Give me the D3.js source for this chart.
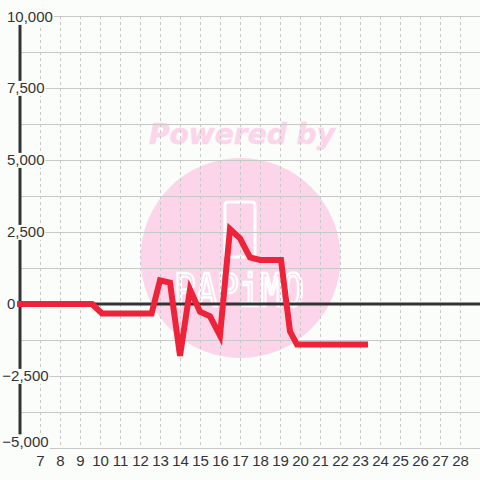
<!DOCTYPE html>
<html>
<head>
<meta charset="utf-8">
<script src="https://cdn.jsdelivr.net/npm/d3@7"></script>
<style>
  html, body { margin: 0; padding: 0; background: #fbfdfb; }
  svg { display: block; }
</style>
</head>
<body>
<div id="chart"></div>
<script>
// ---- data ----
const hours = [6, 7, 8, 9, 9.6, 10.1, 11, 12, 12.58, 13, 13.5, 14, 14.5, 15, 15.5, 16, 16.5, 17, 17.5, 18, 19.05, 19.5, 19.85, 21, 22, 23.25];
const values = [0, 0, 0, 0, 0, -330, -330, -330, -330, 820, 740, -1800, 500, -270, -430, -1100, 2600, 2280, 1620, 1530, 1530, -950, -1410, -1410, -1410, -1410];
const xTicks = [7, 8, 9, 10, 11, 12, 13, 14, 15, 16, 17, 18, 19, 20, 21, 22, 23, 24, 25, 26, 27, 28];
const yTicks = [-5000, -2500, 0, 2500, 5000, 7500, 10000];
const yGrid = [-5000, -3750, -2500, -1250, 0, 1250, 2500, 3750, 5000, 6250, 7500, 8750, 10000];
const watermarkTop = "Powered by";
const watermarkLogo = "PAPiMO";

// ---- setup ----
const W = 480, H = 480, BG = "#fbfdfb";
const x = d3.scaleLinear().domain([6, 29]).range([20, 480]);
const y = d3.scaleLinear().domain([-5000, 10000]).range([448, 16]);

const svg = d3.select("#chart").append("svg").attr("width", W).attr("height", H);
svg.append("rect").attr("width", W).attr("height", H).attr("fill", BG);

// watermark
const wm = svg.append("g");
wm.append("circle").attr("cx", 240.5).attr("cy", 258).attr("r", 100).attr("fill", "#fcd5ea");
wm.append("text").attr("x", 149).attr("y", 143.5)
  .attr("font-family", "DejaVu Sans").attr("font-weight", "bold").attr("font-style", "italic")
  .attr("font-size", 28).attr("textLength", 186).attr("lengthAdjust", "spacingAndGlyphs")
  .attr("fill", "#fcd5ea").attr("stroke", "#fcd5ea").attr("stroke-width", 0.6).text(watermarkTop);
wm.append("rect").attr("x", 225).attr("y", 202).attr("width", 30).attr("height", 55).attr("rx", 3)
  .attr("fill", "none").attr("stroke", "#fff").attr("stroke-width", 3);
wm.append("text").attr("x", 174).attr("y", 306)
  .attr("font-family", "DejaVu Sans Mono").attr("font-size", 44)
  .attr("textLength", 130).attr("lengthAdjust", "spacingAndGlyphs")
  .attr("fill", "none").attr("stroke", "#fff").attr("stroke-width", 2.5).text(watermarkLogo);

// grid
const grid = svg.append("g");
grid.selectAll("line.h").data(yGrid).join("line").attr("class", "h")
  .attr("x1", x(6)).attr("x2", W).attr("y1", d => y(d)).attr("y2", d => y(d))
  .attr("stroke", "#c8c8c8").attr("stroke-width", 1).attr("shape-rendering", "crispEdges");
grid.selectAll("line.v").data(xTicks).join("line").attr("class", "v")
  .attr("x1", d => Math.round(x(d)) + 0.5).attr("x2", d => Math.round(x(d)) + 0.5)
  .attr("y1", y(10000)).attr("y2", y(-5000))
  .attr("stroke", "#c8c8c8").attr("stroke-width", 1).attr("stroke-dasharray", "3,3");

// zero line and y axis
svg.append("line").attr("x1", x(6)).attr("x2", W).attr("y1", y(0)).attr("y2", y(0))
  .attr("stroke", "#333").attr("stroke-width", 3);
svg.append("line").attr("x1", x(6)).attr("x2", x(6)).attr("y1", y(10000)).attr("y2", y(-5000))
  .attr("stroke", "#333").attr("stroke-width", 3);

// y labels with background
const fmt = d3.format(",");
const yl = svg.append("g").attr("font-family", "Liberation Sans, Arial, sans-serif")
  .attr("font-size", 15).attr("fill", "#333");
yTicks.forEach(v => {
  const cy = Math.min(Math.max(y(v), 17), 441.5);
  const t = yl.append("text").attr("x", v < 0 ? 2.3 : 7).attr("y", cy).attr("dy", "0.36em").text(fmt(v));
  const b = t.node().getBBox();
  yl.insert("rect", "text").attr("x", b.x - 1).attr("y", b.y + 1.5).attr("width", b.width + 2).attr("height", b.height - 2)
    .attr("fill", BG);
});

// x labels
svg.append("g").attr("font-family", "Liberation Sans, Arial, sans-serif")
  .attr("font-size", 15).attr("fill", "#333")
  .selectAll("text").data(xTicks).join("text")
  .attr("x", d => x(d) + 0.5).attr("y", 461).attr("dy", "0.36em").attr("text-anchor", "middle")
  .text(d => d);

// data line
const pts = hours.map((h, i) => [h, values[i]]);
svg.append("path").datum(pts)
  .attr("d", d3.line().x(d => x(d[0])).y(d => y(d[1])))
  .attr("fill", "none").attr("stroke", "#ee2238").attr("stroke-width", 6)
  .attr("stroke-linecap", "square").attr("stroke-linejoin", "miter");
</script>
</body>
</html>
